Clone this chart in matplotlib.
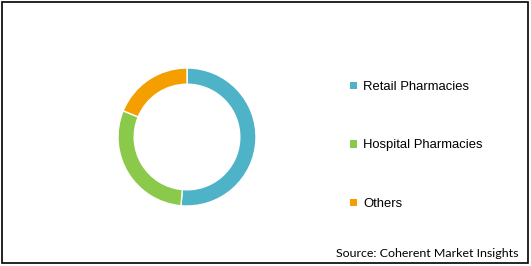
import matplotlib
matplotlib.use("Agg")
import matplotlib.pyplot as plt
from matplotlib.patches import Rectangle

# segment shares (%)
labels = ["Retail Pharmacies", "Hospital Pharmacies", "Others"]
shares = [51.4, 29.8, 18.8]
colors = ["#4FB3C8", "#8BC94B", "#F59E00"]
source = "Source: Coherent Market Insights"

W, H = 531, 266
fig = plt.figure(figsize=(W / 100, H / 100), dpi=100)
fig.patch.set_facecolor("white")

# outer frame
fig.patches.append(Rectangle((2 / W, 3 / H), 526 / W, 261 / H, transform=fig.transFigure,
                             fill=False, edgecolor="black", linewidth=1.2))

# donut: centre ~(187,137), outer radius ~69 px
ax = fig.add_axes([118 / W, (H - 206) / H, 138 / W, 138 / H])
wedges, _ = ax.pie(shares, colors=colors, startangle=90, counterclock=False,
                   radius=1.0, wedgeprops=dict(width=0.235, edgecolor="white", linewidth=1))
ax.set_xlim(-1, 1)
ax.set_ylim(-1, 1)
ax.set_aspect("equal")
ax.axis("off")

leg = fig.legend(wedges, labels, loc="upper left", bbox_to_anchor=(350 / W, (H - 81) / H),
                 frameon=False, prop=dict(family="Liberation Sans", size=9.4),
                 handlelength=0.5, handleheight=0.5, handletextpad=0.5,
                 labelspacing=3.56, borderpad=0, borderaxespad=0)
for h in leg.legend_handles:
    h.set_edgecolor("none")

fig.text(518 / W, (H - 257) / H, source, ha="right", va="baseline",
         fontsize=8.9, family="Lato", color="black")

fig.savefig("out.png", dpi=100)
